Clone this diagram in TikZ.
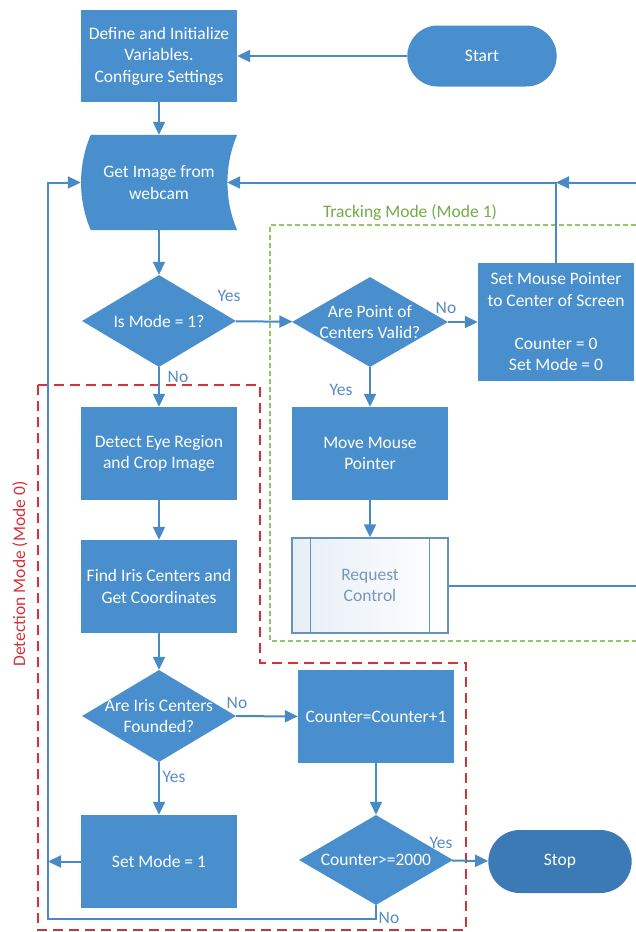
\documentclass[tikz,border=0pt]{standalone}
\usepackage{fontspec}
\setmainfont{Carlito}
\usetikzlibrary{arrows.meta,shapes.geometric,shapes.misc,backgrounds}

\definecolor{flowblue}{RGB}{74,143,205}
\definecolor{stopblue}{RGB}{60,122,182}
\definecolor{lineblue}{RGB}{72,138,198}
\definecolor{labelblue}{RGB}{88,140,195}
\definecolor{redmode}{RGB}{214,48,56}
\definecolor{greenmode}{RGB}{150,196,100}
\definecolor{greentext}{RGB}{112,172,72}
\definecolor{reqedge}{RGB}{104,144,184}
\definecolor{reqtext}{RGB}{122,150,180}
\definecolor{reqfill}{RGB}{230,238,247}

\newcommand{\flowfont}{\fontsize{17.5}{21.5}\selectfont}

\begin{document}
\begin{tikzpicture}[x=1pt, y=-1pt]

    % --- Styles ---
    \tikzset{
        process/.style={rectangle, fill=flowblue, text=white, font=\flowfont, align=center, minimum width=156pt, minimum height=93pt, inner sep=2pt},
        terminal/.style={rounded rectangle, fill=flowblue, text=white, font=\flowfont, minimum width=156pt, minimum height=61pt},
        decision/.style={diamond, fill=flowblue, minimum width=154pt, minimum height=92pt, inner sep=0pt, label={[text=white, font=\flowfont, align=center]center:#1}},
        subproc/.style={process, draw=reqedge, line width=1.3pt, left color=reqfill, right color=white, text=reqtext},
        flow/.style={draw=lineblue, line width=2pt, -{Triangle[length=13pt,width=12pt]}},
        link/.style={draw=lineblue, line width=2pt},
        answer/.style={text=labelblue, font=\flowfont, inner sep=0pt},
        modelabel/.style={font=\flowfont, inner sep=0pt}
    }

    \useasboundingbox (0,0) rectangle (636,932);

    % --- 1. Mode frames (dashed) ---
    \draw[greenmode, line width=1.5pt, dash pattern=on 5pt off 3pt] (636,225) -- (270,225) -- (270,641) -- (636,641);
    \node[modelabel, text=greentext] (tracklbl) at (410,213) {Tracking Mode (Mode 1)};

    \draw[redmode, line width=2.4pt, dash pattern=on 10pt off 6pt] (38,385) -- (260,385) -- (260,663) -- (466,663) -- (466,930) -- (38,930) -- cycle;
    \node[modelabel, text=redmode, rotate=90] (detlbl) at (20,574) {Detection Mode (Mode 0)};

    % --- 2. Blocks ---
    \node[process, minimum height=92pt] (init) at (159,56) {Define and Initialize\\Variables.\\Configure Settings};
    \node[terminal] (start) at (482,56) {Start};

    % stored data shape (drawn behind the text)
    \node[process, fill=none, minimum height=95pt] (img) at (159,182.5) {Get Image from\\webcam};
    \begin{scope}[on background layer]
        \fill[flowblue] ([xshift=10pt]img.north west) -- (img.north east)
            .. controls +(-13,30) and +(-13,-30) .. (img.south east)
            -- ([xshift=10pt]img.south west)
            .. controls +(-13,-30) and +(-13,30) .. ([xshift=10pt]img.north west) -- cycle;
    \end{scope}

    \node[decision={Is Mode = 1?}] (mode) at (159,321) {};
    \node[decision={Are Point of\\Centers Valid?}, minimum width=156pt, minimum height=90pt] (pcv) at (370,322) {};
    \node[process, minimum height=118pt] (setptr) at (556,322) {Set Mouse Pointer\\to Center of Screen\\[21.5pt]Counter = 0\\Set Mode = 0};

    \node[process] (move) at (370,453.5) {Move Mouse\\Pointer};
    \node[subproc, minimum height=95pt] (req) at (370,585.5) {Request\\Control};
    \draw[reqedge, line width=1.3pt] ([xshift=19pt]req.north west) -- ([xshift=19pt]req.south west);
    \draw[reqedge, line width=1.3pt] ([xshift=-19pt]req.north east) -- ([xshift=-19pt]req.south east);

    \node[process] (detect) at (159,453.5) {Detect Eye Region\\and Crop Image};
    \node[process] (iris) at (159,586.5) {Find Iris Centers and\\Get Coordinates};
    \node[decision={Are Iris Centers\\Founded?}] (found) at (159,716) {};
    \node[process] (count) at (376,716.5) {Counter=Counter+1};
    \node[decision={Counter>=2000}, minimum height=90pt] (limit) at (376,860) {};
    \node[process] (setmode) at (159,861.5) {Set Mode = 1};
    \node[terminal, fill=stopblue, minimum width=150pt, minimum height=63pt] (stop) at (560,861.5) {Stop};

    % --- 3. Connectors ---
    \coordinate (rtop) at (636,182.5);
    \coordinate (loopB) at (48,919);

    \draw[flow] (start) -- (init);
    \draw[flow] (init) -- (img);
    \draw[flow] (img) -- (mode);
    \draw[flow] (mode) -- (pcv);
    \draw[flow] (pcv) -- (setptr);
    \draw[flow] (pcv) -- (move);
    \draw[flow] (move) -- (req);
    \draw[flow] (rtop) -- (rtop -| setptr.north);
    \draw[flow] (setptr.north) |- ([xshift=-10pt]img.east);
    \draw[link] (req.east) -- (req.east -| rtop);

    \draw[flow] (mode) -- (detect);
    \draw[flow] (detect) -- (iris);
    \draw[flow] (iris) -- (found);
    \draw[flow] (found) -- (count);
    \draw[flow] (found) -- (setmode);
    \draw[flow] (count) -- (limit);
    \draw[flow] (limit) -- (stop);
    \draw[flow] (setmode.west) -- (setmode.west -| loopB);
    \draw[flow] (limit.south) |- (loopB) -- (loopB |- img.west) -- (img.west);

    % --- 4. Yes / No ---
    \node[answer] (yes1) at (229,296) {Yes};
    \node[answer] (no1) at (178,377) {No};
    \node[answer] (no2) at (446,308) {No};
    \node[answer] (yes2) at (341,390) {Yes};
    \node[answer] (no3) at (237,703) {No};
    \node[answer] (yes3) at (174,777) {Yes};
    \node[answer] (yes4) at (441,843) {Yes};
    \node[answer] (no4) at (389,918) {No};

\end{tikzpicture}
\end{document}
